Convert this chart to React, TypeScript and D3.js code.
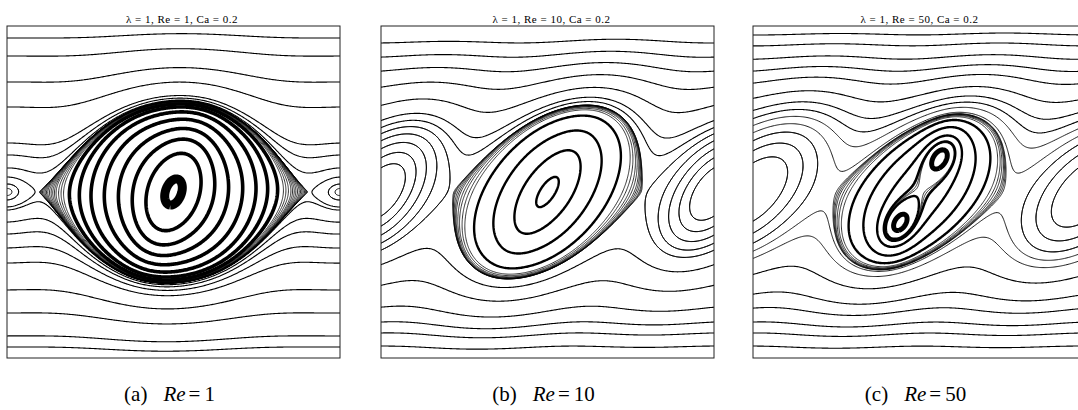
import React, { useMemo } from "react";
import * as d3 from "d3";

const W = 1078;
const H = 410;

// ---- layout of the three panels ----
const panelLeft = [7, 381, 753];
const panelTop = 26;
const panelW = 333;
const panelH = 332;
const titleShift = [8.5, 4, 0];
const panelLetters = ["a", "b", "c"];
const panelRe = [1, 10, 50];
const lambdaVal = 1;
const caVal = 0.2;

// ---- stream-function parameters per panel ----
// modes: [amplitude, wavenumber, tilt, envelope width, half-wavelength, edge flattening power]
const modesA = [[0.1, 1, 0.05, 0.65, 0.702, 4]];
const modesB = [[0.059, 1, 0.45, 0.6, 1, 0], [0.068, 2, 0.45, 0.6, 1, 0]];
const modesC = [[0.006, 1, 0.55, 0.6, 1, 0], [0.055, 2, 0.55, 0.6, 1, 0]];
// vortices: [amplitude, u, v, semi-major, semi-minor, angle deg]
const vortA = [[0.1, 0, 0, 0.3, 0.15, 70]];
const vortB = [[0.06, 0, 0, 0.3, 0.1, 58], [0.015, 0, 0, 0.55, 0.35, 55]];
const vortC = [
  [0.1, 0.135, 0.235, 0.15, 0.1, 58],
  [0.1, -0.129, -0.217, 0.15, 0.1, 58],
  [0.06, 0, 0, 0.6, 0.3, 55],
];

// ---- streamline seeds (u, v) ----
const outerA = [[-0.99, 0.928], [-0.99, 0.819], [-0.99, 0.663], [-0.99, 0.512], [-0.99, 0.295], [-0.99, 0.223], [-0.99, 0.145], [-0.99, 0.09], [-0.99, -0.108], [-0.99, -0.181], [-0.99, -0.253], [-0.99, -0.337], [-0.99, -0.428], [-0.99, -0.59], [-0.99, -0.729], [-0.99, -0.867], [-0.99, -0.934]];
const edgeA = [[-0.93, 0], [-0.97, 0], [0.93, 0], [0.97, 0]];
const fanA = [[0.66, 0], [0.675, 0], [0.69, 0], [0.705, 0], [0.715, 0], [0.725, 0], [0.735, 0], [0.745, 0], [0.755, 0], [0.763, 0], [0.771, 0], [0.779, 0], [0.787, 0], [0.794, 0], [0.8, 0], [0.805, 0]];
const ringA = [[0.16, 0], [0.245, 0], [0.33, 0], [0.415, 0], [0.495, 0], [0.565, 0], [0.625, 0]];
const coreA = [[0.05, 0]];

const outerB = [[-0.99, 0.898], [-0.99, 0.813], [-0.99, 0.729], [-0.99, 0.633], [-0.99, 0.524], [-0.99, 0.434], [-0.99, 0.392], [-0.99, -0.434], [-0.99, -0.56], [-0.99, -0.693], [-0.99, -0.783], [-0.99, -0.849], [-0.99, -0.928]];
const edgeB = [[-0.99, 0.355], [-0.99, 0.313], [-0.99, 0.265], [-0.99, 0.211], [-0.99, 0.151], [0.99, -0.355], [0.99, -0.313], [0.99, -0.265], [0.99, -0.211], [0.99, -0.151]];
const fanB = [[0.45, 0], [0.47, 0], [0.49, 0], [0.505, 0], [0.52, 0], [0.53, 0], [0.54, 0], [0.55, 0], [0.556, 0], [0.562, 0]];
const ringB = [[0.05, 0], [0.16, 0], [0.28, 0], [0.39, 0]];
const coreB: number[][] = [];

const outerC = [[-0.99, 0.946], [-0.99, 0.88], [-0.99, 0.8], [-0.99, 0.729], [-0.99, 0.657], [-0.99, 0.566], [-0.99, 0.494], [-0.99, 0.446], [-0.99, -0.494], [-0.99, -0.614], [-0.99, -0.699], [-0.99, -0.783], [-0.99, -0.849], [-0.99, -0.928]];
const edgeC = [[-0.99, 0.404], [-0.99, 0.361], [-0.99, 0.313], [-0.99, 0.253], [-0.99, 0.181], [0.99, -0.404], [0.99, -0.361], [0.99, -0.313], [0.99, -0.253], [0.99, -0.181]];
const fanC = [[0.42, 0], [0.44, 0], [0.455, 0], [0.47, 0], [0.48, 0], [0.49, 0], [0.5, 0], [0.03, 0], [0.045, 0], [0.06, 0]];
const ringC = [[0.17, 0], [0.28, 0], [0.37, 0], [0.215, 0.235], [-0.05, -0.217]];
const coreC = [[0.165, 0.235], [-0.1, -0.217]];

const GRID = 321;
const MARGIN = 1.05;

type Field = (u: number, v: number) => number;

function makeField(modes: number[][], vort: number[][]): Field {
  return (u, v) => {
    let psi = (v * v) / 2;
    for (const [A, k, t, b, L, n] of modes) {
      let x = u - t * v;
      if (n > 0) x = x - (Math.sign(x) * Math.abs(x) ** n) / n;
      psi -= A * Math.cos((k * Math.PI * x) / L) * Math.exp(-((v / b) ** 2));
    }
    for (const [A, cu, cv, a, bb, ang] of vort) {
      const th = (ang * Math.PI) / 180;
      const c = Math.cos(th), s = Math.sin(th);
      for (const sh of [-2, 0, 2]) {
        const du = u - cu - sh, dv = v - cv;
        const xp = du * c + dv * s, yp = -du * s + dv * c;
        psi -= A * Math.exp(-((xp / a) ** 2) - (yp / bb) ** 2);
      }
    }
    return psi;
  };
}

function buildLines(f: Field, groups: { seeds: number[][]; width: number }[]) {
  const N = GRID;
  const step = (2 * MARGIN) / (N - 1);
  const values = new Array(N * N);
  for (let j = 0; j < N; j++)
    for (let i = 0; i < N; i++) values[j * N + i] = f(-MARGIN + i * step, MARGIN - j * step);
  const gen = d3.contours().size([N, N]);
  const toUV = (p: number[]) => [-MARGIN + (p[0] - 0.5) * step, MARGIN - (p[1] - 0.5) * step];
  const out: { pts: number[][]; width: number }[] = [];
  for (const g of groups) {
    for (const [su, sv] of g.seeds) {
      const level = f(su, sv);
      const mp = gen.contour(values, level);
      let best: number[][] | null = null;
      let bestD = Infinity;
      for (const poly of mp.coordinates)
        for (const ring of poly) {
          let dmin = Infinity;
          for (const p of ring) {
            if (p[0] <= 0 || p[0] >= N || p[1] <= 0 || p[1] >= N) continue;
            const [u, v] = toUV(p);
            const d = (u - su) ** 2 + (v - sv) ** 2;
            if (d < dmin) dmin = d;
          }
          if (dmin < bestD) {
            bestD = dmin;
            best = ring as number[][];
          }
        }
      if (best) out.push({ pts: best.map(toUV), width: g.width });
    }
  }
  return out;
}

const panelDefs = [
  { modes: modesA, vort: vortA, outer: outerA, edge: edgeA, fan: fanA, ring: ringA, core: coreA, ringW: 3.6, coreW: 9 },
  { modes: modesB, vort: vortB, outer: outerB, edge: edgeB, fan: fanB, ring: ringB, core: coreB, ringW: 2.4, coreW: 4 },
  { modes: modesC, vort: vortC, outer: outerC, edge: edgeC, fan: fanC, ring: ringC, core: coreC, ringW: 2.4, coreW: 5 },
];

export default function App() {
  const panels = useMemo(
    () =>
      panelDefs.map((p) =>
        buildLines(makeField(p.modes, p.vort), [
          { seeds: p.outer, width: 1.1 },
          { seeds: p.edge, width: 0.9 },
          { seeds: p.fan, width: 0.8 },
          { seeds: p.ring, width: p.ringW },
          { seeds: p.core, width: p.coreW },
        ])
      ),
    []
  );

  return (
    <div style={{ position: "absolute", left: 0, top: 0 }}>
      <svg width={W} height={H} style={{ display: "block", background: "#fff" }}>
        <defs>
          {panelLeft.map((x0, i) => (
            <clipPath id={`clip${i}`} key={i}>
              <rect x={x0} y={panelTop} width={panelW} height={panelH} />
            </clipPath>
          ))}
        </defs>
        {panels.map((lines, i) => {
          const x0 = panelLeft[i];
          const xS = d3.scaleLinear().domain([-1, 1]).range([x0, x0 + panelW]);
          const yS = d3.scaleLinear().domain([-1, 1]).range([panelTop + panelH, panelTop]);
          const line = d3
            .line<number[]>()
            .x((d) => xS(d[0]))
            .y((d) => yS(d[1]));
          const cx = x0 + panelW / 2;
          return (
            <g key={i}>
              <g clipPath={`url(#clip${i})`}>
                {lines.map((l, k) => (
                  <path
                    key={k}
                    d={line(l.pts) || ""}
                    fill="none"
                    stroke="#000"
                    strokeWidth={l.width}
                    strokeLinejoin="round"
                  />
                ))}
              </g>
              <rect x={x0} y={panelTop} width={panelW} height={panelH} fill="none" stroke="#222" strokeWidth={1} />
              <text
                x={cx + titleShift[i]}
                y={23}
                textAnchor="middle"
                fontFamily="Liberation Serif"
                fontSize={11}
                letterSpacing={0.5}
                fill="#000"
              >
                {`λ = ${lambdaVal}, Re = ${panelRe[i]}, Ca = ${caVal}`}
              </text>
              <text x={cx - 4} y={401} textAnchor="middle" fontFamily="Liberation Serif" fontSize={21} fill="#000">
                <tspan>{`(${panelLetters[i]})`}</tspan>
                <tspan dx={16} fontStyle="italic">Re</tspan>
                <tspan dx={3}>=</tspan>
                <tspan dx={4}>{panelRe[i]}</tspan>
              </text>
            </g>
          );
        })}
      </svg>
    </div>
  );
}
